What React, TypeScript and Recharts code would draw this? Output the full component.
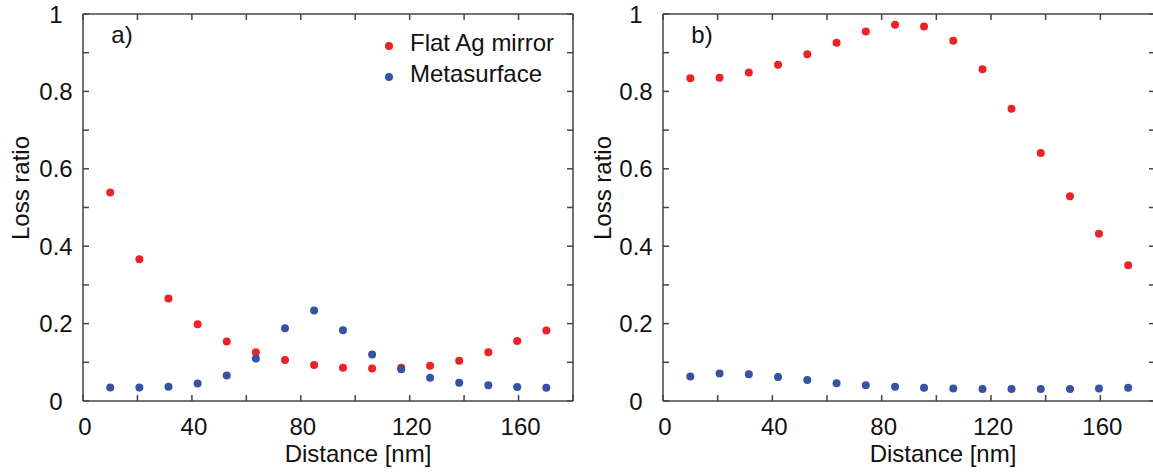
import React from 'react';
import { ScatterChart, Scatter, XAxis, YAxis, Legend, Label } from 'recharts';

// distance of the dots [nm], same for both panels
const distance = [10, 20.7, 31.4, 42.1, 52.8, 63.5, 74.2, 84.9, 95.5, 106.2, 116.9, 127.5, 138.2, 148.9, 159.5, 170.2];

// panel a)
const mirrorA = [0.539, 0.366, 0.265, 0.198, 0.154, 0.126, 0.106, 0.093, 0.086, 0.084, 0.086, 0.091, 0.104, 0.126, 0.155, 0.182];
const metaA = [0.035, 0.035, 0.037, 0.045, 0.066, 0.11, 0.188, 0.234, 0.183, 0.12, 0.082, 0.06, 0.047, 0.041, 0.036, 0.034];

// panel b)
const mirrorB = [0.834, 0.835, 0.849, 0.869, 0.896, 0.926, 0.955, 0.972, 0.968, 0.931, 0.857, 0.755, 0.641, 0.529, 0.432, 0.351];
const metaB = [0.063, 0.071, 0.069, 0.062, 0.054, 0.046, 0.041, 0.037, 0.034, 0.032, 0.031, 0.031, 0.031, 0.031, 0.032, 0.034];

const xTicks = [0, 20, 40, 60, 80, 100, 120, 140, 160, 180];
const xLabels = [0, 40, 80, 120, 160];
const yTicks = [0, 0.1, 0.2, 0.3, 0.4, 0.5, 0.6, 0.7, 0.8, 0.9, 1];
const yLabels = [0, 0.2, 0.4, 0.6, 0.8, 1];

const RED = '#ec2227';
const BLUE = '#3552a6';
const AXIS = '#444';
const FONT = "'Liberation Sans', Arial, sans-serif";
const TICK = 6;

const toPoints = (ys: number[]) => distance.map((x, i) => ({ x, y: ys[i] }));

const axisLine = { stroke: AXIS, strokeWidth: 1.5 };

function BottomTick(p: any) {
  const v = p.payload.value;
  return (
    <g>
      <line x1={p.x} x2={p.x} y1={p.y} y2={p.y - TICK} stroke={AXIS} strokeWidth={1.5} />
      {xLabels.includes(v) && (
        <text x={p.x + 2} y={p.y + 34} textAnchor="middle" fontSize={24} fill="#111" fontFamily={FONT}>
          {v}
        </text>
      )}
    </g>
  );
}

function TopTick(p: any) {
  return <line x1={p.x} x2={p.x} y1={p.y} y2={p.y + TICK} stroke={AXIS} strokeWidth={1.5} />;
}

function LeftTick(p: any) {
  const v = p.payload.value;
  const show = yLabels.some((l) => Math.abs(l - v) < 1e-6);
  return (
    <g>
      <line x1={p.x} x2={p.x + TICK} y1={p.y} y2={p.y} stroke={AXIS} strokeWidth={1.5} />
      {show && (
        <text x={p.x - 27} y={p.y + 8.5} textAnchor="middle" fontSize={24} fill="#111" fontFamily={FONT}>
          {Number(v.toFixed(1))}
        </text>
      )}
    </g>
  );
}

function RightTick(p: any) {
  return <line x1={p.x} x2={p.x - TICK} y1={p.y} y2={p.y} stroke={AXIS} strokeWidth={1.5} />;
}

const dot = (color: string) => (p: any) => <circle cx={p.cx} cy={p.cy} r={4} fill={color} />;

function LegendBox(props: any) {
  const items = props.payload || [];
  return (
    <svg width={200} height={70}>
      {items.map((it: any, i: number) => (
        <g key={it.value}>
          <circle cx={14} cy={21 + i * 31} r={4} fill={it.color} />
          <text x={35} y={26 + i * 31} fontSize={24} fill="#111" fontFamily={FONT}>
            {it.value}
          </text>
        </g>
      ))}
    </svg>
  );
}

interface PanelProps {
  tag: string;
  mirror: number[];
  meta: number[];
  width: number;
  right: number;
  legend?: boolean;
  xTitle: number;
  yTitle: number;
}

// axes get a 1px box (a 0px box is not drawn), margins are 1px smaller to keep the plot area
function Panel({ tag, mirror, meta, width, right, legend, xTitle, yTitle }: PanelProps) {
  return (
    <ScatterChart width={width} height={473} margin={{ top: 13, left: 82, right: right - 1, bottom: 71 }}>
      <XAxis
        type="number"
        dataKey="x"
        domain={[0, 180]}
        ticks={xTicks}
        interval={0}
        height={1}
        tickSize={0}
        tickMargin={0}
        tickLine={false}
        axisLine={axisLine}
        tick={BottomTick}
        allowDataOverflow
      >
        <Label
          content={() => (
            <text x={xTitle} y={462} textAnchor="middle" fontSize={24} fill="#111" fontFamily={FONT}>
              Distance [nm]
            </text>
          )}
        />
      </XAxis>
      <XAxis
        xAxisId="top"
        orientation="top"
        type="number"
        dataKey="x"
        domain={[0, 180]}
        ticks={xTicks}
        interval={0}
        height={1}
        tickSize={0}
        tickMargin={0}
        tickLine={false}
        axisLine={axisLine}
        tick={TopTick}
        allowDataOverflow
      >
        <Label
          content={() => (
            <text x={122} y={43} textAnchor="middle" fontSize={24} fill="#111" fontFamily={FONT}>
              {tag}
            </text>
          )}
        />
      </XAxis>
      <YAxis
        type="number"
        dataKey="y"
        domain={[0, 1]}
        ticks={yTicks}
        interval={0}
        width={1}
        tickSize={0}
        tickMargin={0}
        tickLine={false}
        axisLine={axisLine}
        tick={LeftTick}
        allowDataOverflow
      >
        <Label
          content={() => (
            <text
              x={yTitle}
              y={188}
              transform={`rotate(-90 ${yTitle} 188)`}
              textAnchor="middle"
              dominantBaseline="central"
              fontSize={24}
              fill="#111"
              fontFamily={FONT}
            >
              Loss ratio
            </text>
          )}
        />
      </YAxis>
      <YAxis
        yAxisId="right"
        orientation="right"
        type="number"
        dataKey="y"
        domain={[0, 1]}
        ticks={yTicks}
        interval={0}
        width={1}
        tickSize={0}
        tickMargin={0}
        tickLine={false}
        axisLine={axisLine}
        tick={RightTick}
        allowDataOverflow
      />
      {legend && (
        <Legend
          layout="vertical"
          align="center"
          verticalAlign="middle"
          content={LegendBox}
          wrapperStyle={{ left: 375, top: 25, width: 200, height: 70 }}
        />
      )}
      <Scatter name="Flat Ag mirror" data={toPoints(mirror)} fill={RED} shape={dot(RED)} isAnimationActive={false} />
      <Scatter name="Metasurface" data={toPoints(meta)} fill={BLUE} shape={dot(BLUE)} isAnimationActive={false} />
    </ScatterChart>
  );
}

export default function App() {
  return (
    <div
      style={{
        position: 'absolute',
        left: 0,
        top: 0,
        width: 1153,
        height: 473,
        overflow: 'hidden',
        background: '#fff',
        fontFamily: FONT,
      }}
    >
      <div style={{ position: 'absolute', left: 0, top: 0 }}>
        <Panel tag="a)" mirror={mirrorA} meta={metaA} width={580} right={7} legend xTitle={358} yTitle={20} />
      </div>
      <div style={{ position: 'absolute', left: 580, top: 0 }}>
        <Panel tag="b)" mirror={mirrorB} meta={metaB} width={600} right={25} xTitle={363} yTitle={22} />
      </div>
    </div>
  );
}
